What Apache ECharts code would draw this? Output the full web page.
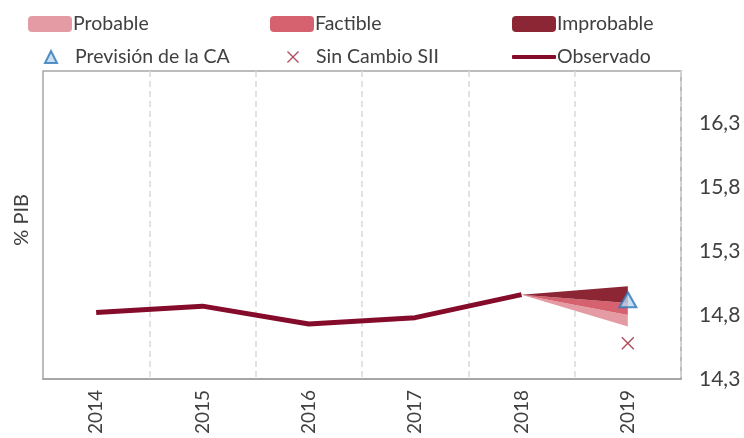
<!DOCTYPE html>
<html>
<head>
<meta charset="utf-8">
<script src="https://cdn.jsdelivr.net/npm/echarts@6/dist/echarts.min.js"></script>
<style>html,body{margin:0;padding:0;background:#fff}#c{width:744px;height:438px}</style>
</head>
<body>
<div id="c"></div>
<script>
var years = ['2014', '2015', '2016', '2017', '2018', '2019'];
var observed = [14.82, 14.87, 14.73, 14.78, 14.96, null];
var probableLow = [null, null, null, null, 14.96, 14.71];
var probableHigh = [null, null, null, null, 14.96, 14.80];
var factibleHigh = [null, null, null, null, 14.96, 14.895];
var improbableHigh = [null, null, null, null, 14.96, 15.025];
var prevision = [null, null, null, null, null, 14.92];
var sinCambio = [null, null, null, null, null, 14.58];
var yTicks = [14.3, 14.8, 15.3, 15.8, 16.3];

function diff(a, b) { return a.map(function (v, i) { return v == null ? null : +(v - b[i]).toFixed(4); }); }

var FONT = 'Lato, "Open Sans", sans-serif';
var TXT = '#404040';
var xPath = 'path://M0,0.8L0.8,0L5,4.2L9.2,0L10,0.8L5.8,5L10,9.2L9.2,10L5,5.8L0.8,10L0,9.2L4.2,5Z';

function lg(name, left, top, icon, w, h, pad) {
  return {
    data: [{ name: name, icon: icon }],
    left: left, top: top, padding: 0,
    itemWidth: w, itemHeight: h,
    textStyle: { color: TXT, fontSize: 19.5, fontFamily: FONT, lineHeight: 22, padding: [0, 0, 0, pad] },
    selectedMode: false
  };
}

var chart = echarts.init(document.getElementById('c'), null, { renderer: 'canvas' });
chart.setOption({
  animation: false,
  legend: [
    lg('Probable', 28, 13, 'roundRect', 44, 16, -4),
    lg('Factible', 270, 13, 'roundRect', 44, 16, -4),
    lg('Improbable', 512, 13, 'roundRect', 44, 16, -4),
    lg('Previsión de la CA', 44, 46, 'triangle', 12, 12, 13),
    lg('Sin Cambio SII', 287, 46, xPath, 12, 12, 12),
    lg('Observado', 512, 46, 'roundRect', 44, 4, -4)
  ],
  grid: { left: 43, right: 63, top: 71, bottom: 59, show: true, borderColor: '#A6A6A6', borderWidth: 1.5, containLabel: false },
  xAxis: {
    type: 'category', data: years, boundaryGap: true,
    axisLine: { show: true, lineStyle: { color: '#A6A6A6', width: 2 } },
    axisTick: { show: false },
    axisLabel: { rotate: 90, margin: 11, color: TXT, fontSize: 19, fontFamily: FONT },
    splitLine: { show: true, interval: function (i) { return i > 0 && i < years.length; }, lineStyle: { color: '#D9D9D9', type: [6, 4], width: 1.5 } }
  },
  yAxis: {
    type: 'value', position: 'right', min: 14.3, max: 16.71,
    axisLine: { show: false }, axisTick: { show: false }, splitLine: { show: false },
    axisLabel: {
      customValues: yTicks, margin: 18, color: TXT, fontSize: 21, fontFamily: FONT,
      formatter: function (v) { return v.toFixed(1).replace('.', ','); }
    }
  },
  graphic: [{
    type: 'text', left: 12, top: 194, rotation: Math.PI / 2,
    style: { text: '% PIB', fill: TXT, font: '20px ' + FONT }
  }],
  series: [
    { name: 'base', type: 'line', stack: 'fan', data: probableLow, symbol: 'none', lineStyle: { width: 0 }, silent: true },
    { name: 'Probable', type: 'line', stack: 'fan', data: diff(probableHigh, probableLow), symbol: 'none', lineStyle: { width: 0 }, itemStyle: { color: '#E59BA4' }, areaStyle: { color: '#E59BA4', opacity: 1 } },
    { name: 'Factible', type: 'line', stack: 'fan', data: diff(factibleHigh, probableHigh), symbol: 'none', lineStyle: { width: 0 }, itemStyle: { color: '#D6626F' }, areaStyle: { color: '#D6626F', opacity: 1 } },
    { name: 'Improbable', type: 'line', stack: 'fan', data: diff(improbableHigh, factibleHigh), symbol: 'none', lineStyle: { width: 0 }, itemStyle: { color: '#8C2634' }, areaStyle: { color: '#8C2634', opacity: 1 } },
    { name: 'Observado', type: 'line', data: observed, symbol: 'none', lineStyle: { color: '#850B2B', width: 5 }, itemStyle: { color: '#850B2B' } },
    { name: 'Previsión de la CA', type: 'scatter', data: prevision, symbol: 'triangle', symbolSize: [17, 15], itemStyle: { color: '#BDD7EE', borderColor: '#2E75B6', borderWidth: 2 }, z: 5 },
    { name: 'Sin Cambio SII', type: 'scatter', data: sinCambio, symbol: xPath, symbolSize: 13, itemStyle: { color: '#9B2335' }, z: 5 }
  ]
});
</script>
</body>
</html>
